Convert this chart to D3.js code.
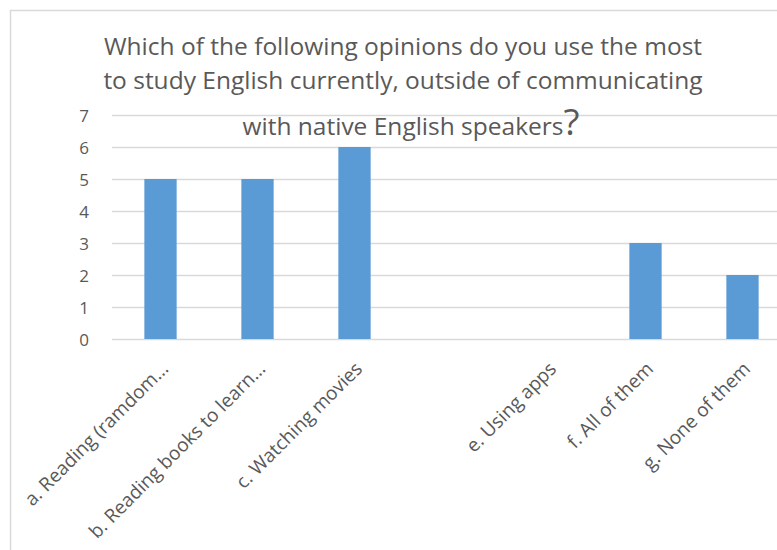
<!DOCTYPE html>
<html>
<head>
<meta charset="utf-8">
<script src="https://cdn.jsdelivr.net/npm/d3@7"></script>
<style>
  html, body { margin: 0; padding: 0; background: #fff; }
  svg { display: block; }
</style>
</head>
<body>
<svg id="chart" width="777" height="550"></svg>
<script>
// Survey responses: preferred way of studying English
const categories = [
  "a. Reading (ramdom...",
  "b. Reading books to learn...",
  "c. Watching movies",
  "",
  "e. Using apps",
  "f. All of them",
  "g. None of them"
];
const counts = [5, 5, 6, 0, 0, 3, 2];
const yTicks = [0, 1, 2, 3, 4, 5, 6, 7];
const titleLines = [
  "Which of the following opinions do you use the most",
  "to study English currently, outside of communicating",
  "with native English speakers"
];

const svg = d3.select("#chart");
const textColor = "#595959";
const gridColor = "#D9D9D9";
const barColor = "#5B9BD5";
const font = "'Open Sans', 'Noto Sans', sans-serif";

// Chart frame
svg.append("rect")
  .attr("x", 10.5).attr("y", 10.5)
  .attr("width", 800).attr("height", 600)
  .attr("fill", "none").attr("stroke", gridColor).attr("stroke-width", 1.5);

const plot = { left: 112, top: 115, bottom: 339, right: 791 };

const x = d3.scaleBand()
  .domain(d3.range(categories.length))
  .range([plot.left, plot.right])
  .paddingInner(0.667).paddingOuter(0.3335);

const y = d3.scaleLinear().domain([0, 7]).range([plot.bottom, plot.top]);

// Gridlines
svg.append("g")
  .selectAll("line")
  .data(yTicks)
  .join("line")
  .attr("x1", plot.left).attr("x2", plot.right)
  .attr("y1", d => y(d) + 0.5).attr("y2", d => y(d) + 0.5)
  .attr("stroke", gridColor).attr("stroke-width", 1.5);

// Y axis labels
const yAxis = svg.append("g")
  .attr("transform", `translate(${plot.left - 23},0)`)
  .call(d3.axisLeft(y).tickValues(yTicks).tickSize(0).tickPadding(0).tickFormat(d3.format("d")));
yAxis.select(".domain").remove();
yAxis.selectAll("text")
  .attr("fill", textColor)
  .attr("dy", "0.36em")
  .style("font-family", font)
  .style("font-size", "17px");

// Bars
svg.append("g")
  .selectAll("rect")
  .data(counts)
  .join("rect")
  .attr("x", (d, i) => x(i))
  .attr("width", x.bandwidth())
  .attr("y", d => y(d))
  .attr("height", d => y(0) - y(d))
  .attr("fill", barColor);

// Rotated category labels
const xAxis = svg.append("g")
  .attr("transform", `translate(0,${plot.bottom})`)
  .call(d3.axisBottom(x).tickSize(0).tickFormat(i => categories[i]));
xAxis.select(".domain").remove();
xAxis.selectAll("text")
  .attr("fill", textColor)
  .style("font-family", font)
  .style("font-size", "19px")
  .attr("text-anchor", "end")
  .attr("dy", null)
  .attr("transform", "translate(9,31) rotate(-45)")
  .attr("y", 0).attr("x", 0);

// Title
const title = svg.append("text")
  .attr("text-anchor", "middle")
  .attr("fill", textColor)
  .style("font-family", font)
  .style("font-size", "24.5px");
title.selectAll("tspan.line")
  .data(titleLines)
  .join("tspan")
  .attr("x", (d, i) => i === 2 ? 411 : 403)
  .attr("y", (d, i) => [55, 89, 135][i])
  .text(d => d);
title.select("tspan:last-child")
  .append("tspan")
  .style("font-size", "37px")
  .text("?");
</script>
</body>
</html>
